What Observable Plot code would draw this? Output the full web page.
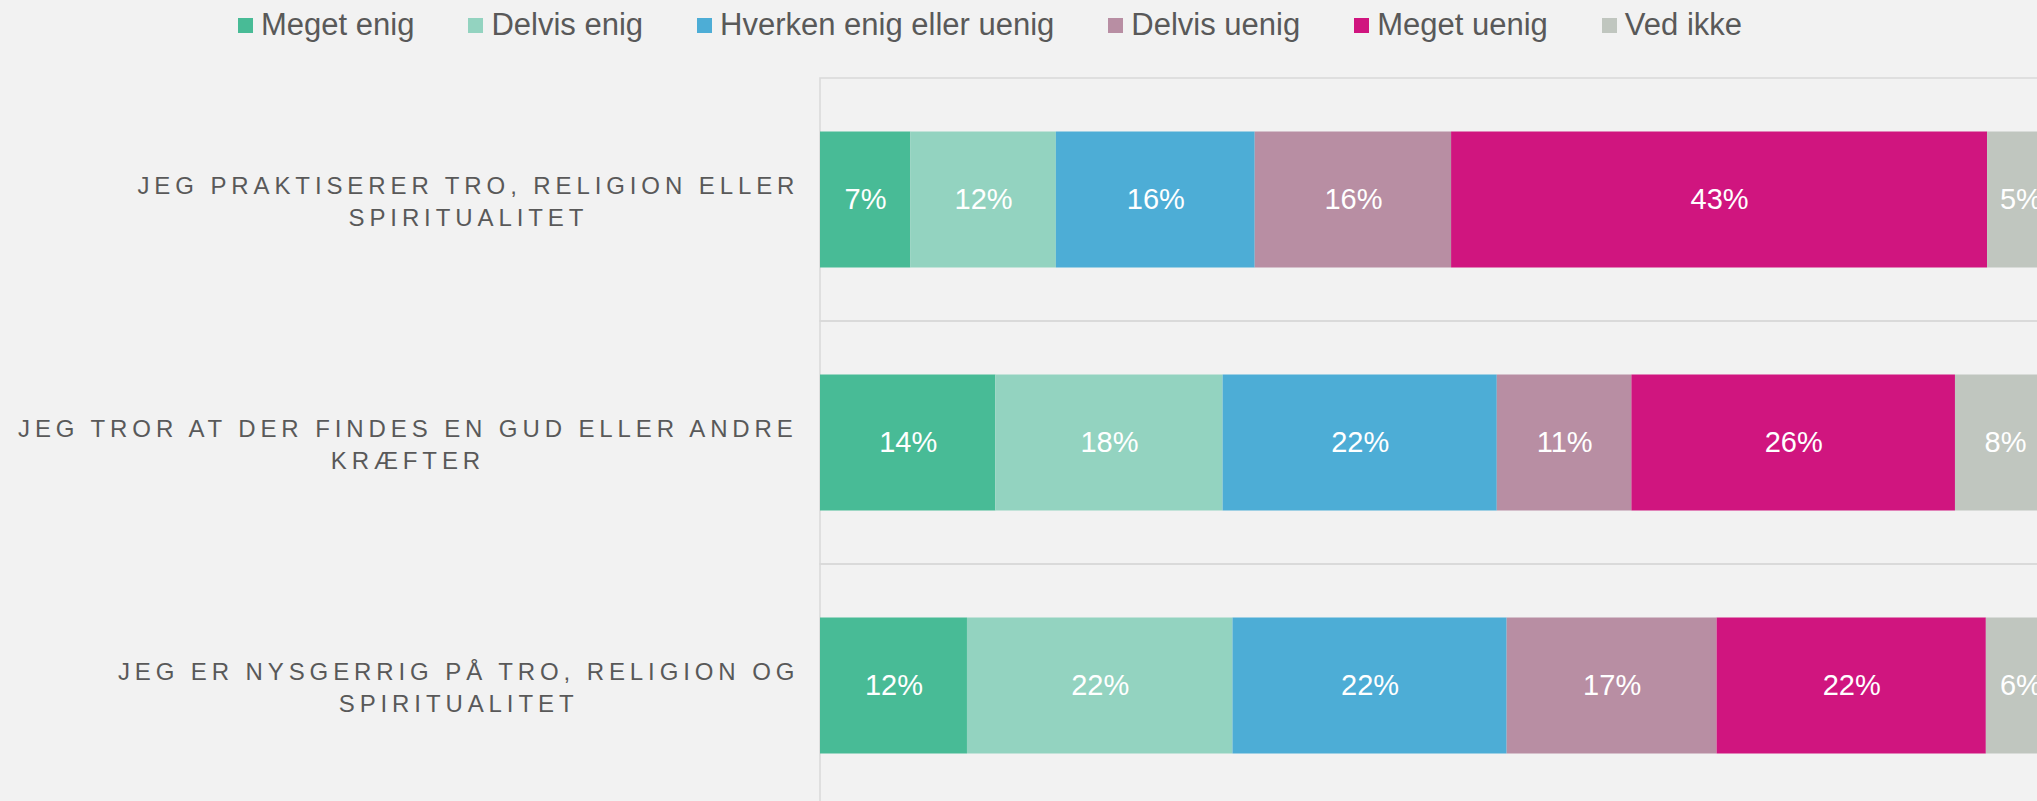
<!DOCTYPE html>
<html>
<head>
<meta charset="utf-8">
<script src="https://cdn.jsdelivr.net/npm/d3@7"></script>
<script src="https://cdn.jsdelivr.net/npm/@observablehq/plot@0.6"></script>
<style>
  html, body { margin: 0; padding: 0; background: #f2f2f2; overflow: hidden; width: 2037px; height: 801px; }
  #legend { position: relative; height: 50px; display: flex; align-items: center; padding-left: 238px; gap: 54px;
            font-family: "Liberation Sans", Arial, sans-serif; font-size: 31px; color: #595959; white-space: nowrap; }
  #legend .item { display: flex; align-items: center; gap: 8px; }
  #legend .sw { width: 15px; height: 15px; display: inline-block; }
  #chart { width: 2037px; height: 751px; overflow: hidden; position: relative; }
  #chart svg { display: block; max-width: none !important; }
</style>
</head>
<body>
<div id="legend"></div>
<div id="chart"></div>
<script>
// ---- data ----
const categories = ["Meget enig", "Delvis enig", "Hverken enig eller uenig", "Delvis uenig", "Meget uenig", "Ved ikke"];
const colors = ["#48bb96", "#93d3c0", "#4dadd6", "#b88ea3", "#d0157f", "#c0c6bf"];
const questions = [
  "JEG PRAKTISERER TRO, RELIGION ELLER\nSPIRITUALITET",
  "JEG TROR AT DER FINDES EN GUD ELLER ANDRE\nKRÆFTER",
  "JEG ER NYSGERRIG PÅ TRO, RELIGION OG\nSPIRITUALITET"
];
const praktiserer = [7.3, 11.8, 16.1, 15.9, 43.4, 5.4];
const tror = [14.2, 18.4, 22.2, 10.9, 26.2, 8.1];
const nysgerrig = [11.9, 21.5, 22.2, 17.0, 21.8, 5.6];
const seriesByQuestion = [praktiserer, tror, nysgerrig];

const data = questions.flatMap((q, i) =>
  categories.map((c, j) => ({question: q, category: c, value: seriesByQuestion[i][j]})));

// ---- legend (HTML, above the SVG) ----
const legend = d3.select("#legend");
categories.forEach((c, i) => {
  const it = legend.append("div").attr("class", "item");
  it.append("span").attr("class", "sw").style("background", colors[i]);
  it.append("span").text(c);
});

// ---- label measurement ----
const labelFont = 24, letterSp = 4.9;
const ctx = document.createElement("canvas").getContext("2d");
ctx.font = `${labelFont}px "Liberation Sans"`;
function blockWidth(s) {
  return d3.max(s.split("\n"), line => ctx.measureText(line).width + line.length * letterSp);
}

const labelMarks = questions.map(q => Plot.text([q], {
  y: d => d, text: d => d, frameAnchor: "left", textAnchor: "middle",
  dx: -(21 + blockWidth(q) / 2), fontSize: labelFont, fill: "#595959", lineHeight: 1.3
}));

const chart = Plot.plot({
  width: 2055, height: 758,
  marginLeft: 820, marginRight: 0, marginTop: 27, marginBottom: 0,
  style: {background: "transparent", fontFamily: "'Liberation Sans', Arial, sans-serif", overflow: "visible", maxWidth: "none"},
  x: {domain: [0, 100], axis: null},
  y: {domain: questions, padding: 0, axis: null},
  color: {domain: categories, range: colors},
  marks: [
    Plot.barX(questions, {y: d => d, x1: 0, x2: 100, fill: "none", stroke: "#d9d9d9", strokeWidth: 1.5}),
    Plot.barX(data, {x: "value", y: "question", fill: "category", insetTop: 53.5, insetBottom: 53.5}),
    Plot.text(data, Plot.stackX({x: "value", y: "question", z: "category",
      text: d => `${Math.round(d.value)}%`, fill: "white", fontSize: 29})),
    ...labelMarks
  ]
});
document.getElementById("chart").appendChild(chart);
d3.select(chart).selectAll(`g[font-size='${labelFont}'] text`).style("letter-spacing", letterSp + "px");
</script>
</body>
</html>
